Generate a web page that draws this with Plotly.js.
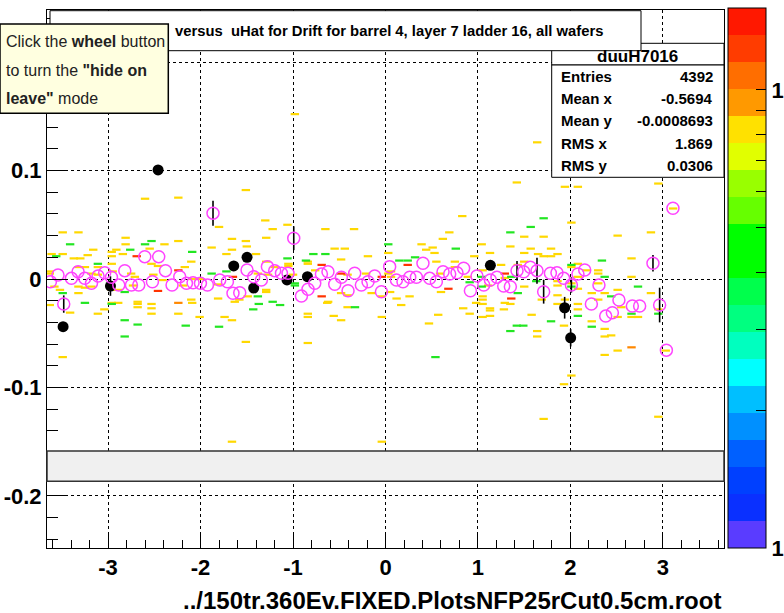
<!DOCTYPE html>
<html>
<head>
<meta charset="utf-8">
<script src="https://cdn.plot.ly/plotly-3.0.1.min.js"></script>
<style>html,body{margin:0;padding:0;background:#fff;overflow:hidden;}#chart{width:784px;height:613px;}</style>
</head>
<body>
<div id="chart"></div>
<script>
// ---- Axis ticks ----
const xTickVals = [-3, -2, -1, 0, 1, 2, 3];
const xTickText = ['-3', '-2', '-1', '0', '1', '2', '3'];
const yTickVals = [-0.2, -0.1, 0, 0.1, 0.2];
const yTickText = ['-0.2', '-0.1', '0', '0.1', ''];   // the 0.2 label is hidden under the tooltip in the original
const xRange = [-3.66, 3.66];
const yRange = [-0.248, 0.248];

// ---- 2D histogram cells (colour = content level) ----
const yellowX = [-0.98,1.64,-2.60,-2.24,-1.51,1.42,1.94,2.08,2.95,3.11,-1.30,-1.06,-1.80,-1.22,-0.65,-0.34,-3.49,-3.32,0.83,2.01,2.87,0.69,0.62,2.51,1.50,1.71,0.39,1.35,0.51,0.44,0.53,1.04,1.57,1.79,1.13,1.50,1.71,2.66,-2.81,-2.81,-1.66,-1.51,-1.29,-2.24,-2.39,-2.91,-3.16,-2.55,-1.88,-1.66,-1.50,-0.55,-0.44,
 -2.96,-3.61,-3.49,-3.22,-2.84,-3.37,-3.30,-2.96,-3.11,-2.96,-2.53,-2.46,-2.17,-2.10,-3.63,-3.63,-3.32,-3.25,-3.11,-3.18,-2.95,-2.75,-2.71,-2.51,-2.41,-2.08,-2.01,-2.19,-2.73,-3.58,-3.52,-3.32,-3.25,-3.18,-3.32,-2.96,-2.89,-2.10,-2.01,
 -1.72,-1.40,-0.19,0.03,-0.84,-0.84,-1.05,-1.05,-0.48,-1.29,-1.20,-1.38,-1.27,-1.00,-0.76,-0.41,-0.21,0.03,-1.81,-1.29,-1.29,-0.62,-0.48,-0.41,-0.15,-0.04,-0.41,-1.81,-1.63,-1.49,-1.74,
 1.65,1.79,0.96,0.55,0.75,0.75,1.05,1.25,1.43,1.50,0.06,0.06,0.59,0.89,1.29,0.60,1.11,1.50,1.29,1.05,1.05,1.13,1.13,0.05,0.12,0.26,0.17,0.84,0.91,0.57,1.58,1.69,
 1.86,2.08,2.01,2.30,2.30,2.17,1.86,1.86,2.01,2.08,2.08,2.30,2.66,2.23,2.37,2.51,2.87,1.86,1.94,2.08,1.86,2.30,2.55,2.95,2.73,2.51,
 -3.63,-3.41,-3.11,-3.04,-2.96,-2.89,-2.68,-2.68,-2.68,-2.53,-2.53,-2.53,-3.49,-2.24,-2.09,-1.66,-1.51,-1.58,-0.84,-0.84,-0.84,-0.63,-0.56,-0.48,-0.04,-1.66,-0.04,
 0.98,1.05,1.13,1.05,1.35,1.28,0.47,1.64,1.64,1.93,2.23,2.37,2.37,2.44,2.51,2.37,2.66,3.03,2.01,1.93,1.71,2.95,2.08];
const yellowY = [0.152,0.126,0.074,0.075,0.082,0.089,0.085,0.085,0.088,0.065,0.054,0.050,0.048,0.046,0.046,0.046,0.043,0.043,0.058,0.052,0.043,0.043,0.037,0.040,0.039,0.039,0.032,0.030,0.029,0.027,0.024,0.032,0.028,0.028,0.024,0.024,0.021,0.019,0.038,0.032,0.037,0.035,0.038,0.035,0.032,0.027,0.027,0.028,0.029,0.027,0.030,0.028,0.028,
 0.025,0.023,0.023,0.022,0.023,0.019,0.019,0.021,0.011,0.014,0.014,0.012,0.011,0.016,0.007,0.005,0.011,0.011,0.004,0.005,0.007,0.005,0.002,0.004,-0.001,0.000,0.000,-0.006,-0.006,-0.007,-0.010,-0.007,-0.008,-0.007,-0.013,-0.010,-0.010,-0.019,-0.035,
 0.023,0.023,0.021,0.024,0.016,0.014,0.014,0.012,0.018,0.016,0.011,0.005,0.004,0.004,0.008,0.004,0.005,0.005,-0.005,-0.010,-0.012,-0.021,-0.013,-0.015,-0.013,-0.016,-0.026,-0.018,-0.021,-0.016,-0.035,
 0.023,0.021,0.021,0.016,0.016,0.011,0.008,0.013,0.013,0.016,0.007,0.002,0.005,0.002,0.001,-0.012,-0.006,-0.007,-0.022,-0.016,-0.019,-0.027,-0.029,-0.012,-0.018,-0.016,-0.024,-0.027,-0.032,-0.033,-0.033,-0.019,
 0.023,0.014,0.011,0.008,0.005,0.008,-0.002,-0.006,-0.004,0.002,-0.009,-0.004,0.002,-0.013,-0.013,-0.010,-0.013,-0.015,-0.019,-0.028,-0.023,-0.019,-0.026,-0.028,-0.035,-0.035,
 -0.024,-0.031,-0.032,-0.028,-0.022,-0.022,-0.021,-0.023,-0.026,-0.023,-0.027,-0.032,-0.072,-0.032,-0.022,-0.038,-0.058,-0.019,-0.032,-0.035,-0.059,-0.022,-0.034,-0.038,-0.035,-0.150,-0.150,
 -0.022,-0.023,-0.034,-0.035,-0.023,-0.028,-0.041,-0.048,-0.053,-0.043,-0.039,-0.046,-0.053,-0.052,-0.066,-0.070,-0.035,-0.066,-0.089,-0.097,-0.129,-0.127,-0.023];

const greenX = [1.71,1.57,1.35,0.76,0.03,2.34,-2.53,-3.41,-2.76,-2.09,-0.78,-0.65,-1.06,-0.86,-2.60,-3.56,-3.11,-1.88,-2.82,-3.49,-3.25,-2.96,-2.82,-1.72,-1.38,-1.22,-0.98,-0.98,-0.33,-1.43,0.15,0.24,0.32,1.04,1.36,1.63,0.91,1.04,1.43,2.01,2.37,2.01,2.73,2.44,2.66,2.95,2.08,-2.68,-2.82,-2.16,-1.80,-1.37,-1.14,0.54,1.42,1.49,1.35,1.79,2.23];
const greenY = [0.056,0.048,0.043,0.028,0.032,0.017,0.035,0.032,0.027,0.025,0.023,0.023,0.019,0.017,0.032,0.021,0.014,0.005,-0.012,-0.013,-0.022,-0.023,-0.038,0.007,-0.016,-0.021,-0.004,-0.006,-0.026,-0.028,0.017,0.017,0.020,0.002,0.002,-0.002,-0.003,-0.007,-0.013,0.013,0.002,-0.007,-0.007,-0.016,-0.032,-0.032,-0.034,-0.042,-0.053,-0.043,-0.044,-0.023,-0.024,-0.072,-0.043,-0.043,-0.048,-0.039,-0.044];

const redX = [-2.69,-2.24,-2.46,-0.69,-1.65,-0.48,-0.04,-0.69,0.24,1.29,0.68,1.36];
const redY = [0.021,0.008,-0.011,0.013,0.002,0.005,0.002,-0.016,0.013,0.005,-0.009,-0.018];
const orangeX = [-2.24, 2.66];
const orangeY = [-0.022, -0.063];

// ---- Profile (open magenta circles) ----
const profX = [-3.623,-3.541,-3.479,-3.396,-3.324,-3.252,-3.179,-3.108,-3.036,-2.963,-2.884,-2.819,-2.747,-2.668,-2.603,-2.520,-2.452,-2.379,-2.308,-2.225,-2.152,-2.081,-2.001,-1.925,-1.865,-1.792,-1.709,-1.649,-1.576,-1.497,-1.425,-1.342,-1.277,-1.198,-1.125,-1.054,-0.992,-0.909,-0.838,-0.765,-0.693,-0.622,-0.549,-0.477,-0.405,-0.333,-0.261,-0.189,-0.117,-0.044,0.045,0.118,0.189,0.262,0.334,0.405,0.478,0.550,0.622,0.694,0.773,0.845,0.918,0.989,1.062,1.134,1.205,1.278,1.350,1.422,1.494,1.566,1.638,1.710,1.783,1.854,1.926,2.010,2.081,2.154,2.226,2.308,2.381,2.453,2.524,2.669,2.748,2.892,2.964,3.037,3.108];
const profY = [-0.0025,0.0037,-0.0231,0.0006,0.0067,0.0006,-0.0040,0.0028,0.0058,0.0016,-0.0055,0.0077,-0.0055,-0.0055,0.0206,-0.0025,0.0206,0.0077,-0.0055,0.0021,-0.0040,-0.0034,-0.0040,-0.0055,0.0607,-0.0009,-0.0025,-0.0132,-0.0126,0.0083,0.0021,-0.0009,0.0114,0.0077,0.0053,0.0053,0.0376,-0.0157,-0.0095,-0.0040,0.0046,0.0067,-0.0049,0.0016,-0.0108,0.0053,-0.0055,-0.0025,0.0028,-0.0117,0.0114,-0.0009,-0.0025,0.0016,0.0016,0.0145,0.0006,-0.0025,0.0067,0.0046,0.0058,0.0099,-0.0108,0.0028,-0.0055,-0.0009,0.0016,-0.0065,-0.0071,0.0077,0.0067,0.0108,0.0077,-0.0117,0.0053,0.0058,0.0006,-0.0055,0.0046,0.0083,-0.0231,-0.0055,-0.0342,-0.0311,-0.0194,-0.0249,-0.0249,0.0145,-0.0240,-0.0656,0.0653];
// errors small enough to stay hidden inside the circle are given as 0
const profErr = [0,0,0.008,0,0,0,0,0,0,0,0,0,0,0,0,0,0,0,0,0,0,0,0,0,0.0115,0,0,0,0,0,0,0,0,0,0,0,0.011,0,0,0,0,0,0,0,0,0,0,0,0,0,0,0,0,0,0,0,0,0,0,0,0,0,0,0,0,0,0,0,0,0.009,0,0,0.012,0.011,0,0,0,0.007,0,0,0,0,0,0,0,0,0,0.0077,0.016,0,0];

// ---- Second profile (filled black circles) ----
const blackX = [-3.486,-2.974,-2.459,-1.641,-1.497,-1.425,-1.065,-0.844,1.134,1.937,2.002];
const blackY = [-0.0440,-0.0065,0.1006,0.0120,0.0200,-0.0083,-0.0009,0.0021,0.0126,-0.0265,-0.0542];
const blackErr = [0.004,0.009,0,0,0,0.004,0,0,0,0.010,0.008];

// ---- Gray band ----
const bandLow = -0.1865, bandHigh = -0.1585;

// ---- Colour palette (bottom -> top) and z range (log10) ----
const paletteColors = ['#5a3cff','#0a30ff','#0040ff','#0060ff','#0090ff','#00bfff','#00ffff','#00ffbf','#00ff80','#00ff4c','#00ff00','#00ff00','#66ff00','#99ff00','#e1ff00','#ffe100','#ff9900','#ff6e00','#ff3c00','#ff1800'];
const zLogMin = 0, zLogMax = 1.179;
const cbTickVals = [0, Math.log10(2), Math.log10(3), Math.log10(4), Math.log10(5), Math.log10(6), Math.log10(7), Math.log10(8), Math.log10(9), 1];
const cbTickText = ['1','','','','','','','','','10'];

// ---- Stats box ----
const statName = 'duuH7016';
const statLabels = ['Entries','Mean x','Mean y','RMS x','RMS y'];
const statValues = ['4392','-0.5694','-0.0008693','1.869','0.0306'];

const titleText = 'versus\u00a0 uHat for Drift for barrel 4, layer 7 ladder 16, all wafers';
const xTitleText = '../150tr.360Ev.FIXED.PlotsNFP25rCut0.5cm.root';

// ---------------------------------------------------------------
const FONT = 'Liberation Sans, Arial, sans-serif';
const colorscale = [];
paletteColors.forEach((c, i) => {
  colorscale.push([i / paletteColors.length, c]);
  colorscale.push([(i + 1) / paletteColors.length, c]);
});

function cells(x, y, color) {
  return {
    type: 'scatter', mode: 'markers', x: x, y: y, hoverinfo: 'skip', showlegend: false,
    marker: { symbol: 'line-ew', size: 6, color: color, line: { color: color, width: 2.2 } }
  };
}

const traces = [
  cells(yellowX, yellowY, '#ffd800'),
  cells(greenX, greenY, '#22e622'),
  cells(redX, redY, '#ff3300'),
  cells(orangeX, orangeY, '#ff8800'),
  {
    type: 'scatter', mode: 'markers', x: blackX, y: blackY, showlegend: false,
    error_y: { type: 'data', array: blackErr, color: '#000', thickness: 1.6, width: 0 },
    marker: { symbol: 'circle', size: 11, color: '#000' }
  },
  {
    type: 'scatter', mode: 'markers', x: profX, y: profY, showlegend: false,
    error_y: { type: 'data', array: profErr, color: '#000', thickness: 1.6, width: 0 },
    marker: { symbol: 'circle-open', size: 12, color: '#ff44ff', line: { color: '#ff44ff', width: 1.5 } }
  },
  {
    type: 'scatter', mode: 'markers', x: [null], y: [null], showlegend: false, hoverinfo: 'skip',
    marker: {
      color: [zLogMin], cmin: zLogMin, cmax: zLogMax, colorscale: colorscale, showscale: true,
      colorbar: {
        x: 1.0059, xanchor: 'left', xpad: 0, ypad: 0, y: 0.502, yanchor: 'middle',
        thickness: 38, len: 540, lenmode: 'pixels', outlinewidth: 1, outlinecolor: '#000',
        tickmode: 'array', tickvals: cbTickVals, ticktext: cbTickText,
        ticks: 'inside', ticklen: 10, tickcolor: '#000', tickwidth: 1,
        tickfont: { family: FONT, size: 22, color: '#000', weight: 'bold' }
      }
    }
  }
];

// paper coordinate helpers for overlay boxes (plot area: x 47..724, y 10..548 px)
const px = v => (v - 47) / 677;
const py = v => (548 - v) / 538;

const shapes = [
  { type: 'rect', xref: 'paper', yref: 'y', x0: 0, x1: 1, y0: bandLow, y1: bandHigh,
    fillcolor: '#f0f0f0', line: { color: '#333', width: 1.5 }, layer: 'above' },
  { type: 'rect', xref: 'paper', yref: 'paper', x0: px(551.7), x1: px(724), y0: py(65), y1: py(43.3),
    fillcolor: '#fff', line: { color: '#000', width: 1 }, layer: 'above' },
  { type: 'rect', xref: 'paper', yref: 'paper', x0: px(551.7), x1: px(724), y0: py(177.3), y1: py(65),
    fillcolor: '#fff', line: { color: '#000', width: 1 }, layer: 'above' },
  { type: 'rect', xref: 'paper', yref: 'paper', x0: px(50), x1: px(641), y0: py(50.7), y1: py(10.7),
    fillcolor: '#fff', line: { color: '#000', width: 1 }, layer: 'above' },
  { type: 'rect', xref: 'paper', yref: 'paper', x0: px(0), x1: px(168.3), y0: py(113.3), y1: py(24),
    fillcolor: '#ffffe0', line: { color: '#000', width: 1.5 }, layer: 'above' },
  { type: 'line', xref: 'paper', yref: 'paper', x0: px(744), x1: px(766), y0: py(90), y1: py(90),
    line: { color: '#000', width: 1 }, layer: 'above' }
];

const annotations = [];
annotations.push({ xref: 'paper', yref: 'paper', x: px(637.5), y: py(56), xanchor: 'center', yanchor: 'middle',
  text: statName, showarrow: false, font: { family: FONT, size: 17, color: '#000', weight: 'bold' } });
const rowY = [76.7, 98.3, 120, 143.3, 165];
statLabels.forEach((lab, i) => {
  annotations.push({ xref: 'paper', yref: 'paper', x: px(559), y: py(rowY[i]), xanchor: 'left', yanchor: 'middle',
    text: lab, showarrow: false, font: { family: FONT, size: 15, color: '#000', weight: 'bold' } });
  annotations.push({ xref: 'paper', yref: 'paper', x: px(715), y: py(rowY[i]), xanchor: 'right', yanchor: 'middle',
    text: statValues[i], showarrow: false, font: { family: FONT, size: 15, color: '#000', weight: 'bold' } });
});
annotations.push({ xref: 'paper', yref: 'paper', x: px(173), y: py(31), xanchor: 'left', yanchor: 'middle',
  text: titleText, showarrow: false, font: { family: FONT, size: 14.8, color: '#000', weight: 'bold' } });
const tipLines = ['Click the <b>wheel</b> button', 'to turn the <b>"hide on</b>', '<b>leave"</b> mode'];
const tipY = [41.7, 70, 98.3];
tipLines.forEach((t, i) => {
  annotations.push({ xref: 'paper', yref: 'paper', x: px(4), y: py(tipY[i]), xanchor: 'left', yanchor: 'middle',
    text: t, showarrow: false, font: { family: FONT, size: 16, color: '#222' } });
});
annotations.push({ xref: 'paper', yref: 'paper', x: px(723), y: py(600), xanchor: 'right', yanchor: 'middle',
  text: xTitleText, showarrow: false, font: { family: FONT, size: 24, color: '#000', weight: 'bold' } });

const axisCommon = {
  showline: true, linecolor: '#000', linewidth: 1, mirror: true,
  showgrid: true, gridcolor: '#000', gridwidth: 1, griddash: 'dot',
  zeroline: false, ticks: 'inside', tickcolor: '#000', tickwidth: 1,
  tickmode: 'array', fixedrange: true,
  tickfont: { family: FONT, size: 22, color: '#000', weight: 'bold' }
};

const layout = {
  width: 784, height: 613,
  margin: { l: 47, r: 60, t: 10, b: 65, pad: 0, autoexpand: false },
  paper_bgcolor: '#fff', plot_bgcolor: '#fff',
  showlegend: false,
  xaxis: Object.assign({}, axisCommon, {
    range: xRange, tickvals: xTickVals, ticktext: xTickText, ticklen: 16, automargin: false,
    minor: { ticks: 'inside', ticklen: 8, tick0: 0, dtick: 0.2, tickcolor: '#000', tickwidth: 1, showgrid: false }
  }),
  yaxis: Object.assign({}, axisCommon, {
    range: yRange, tickvals: yTickVals, ticktext: yTickText, ticklen: 21, automargin: false,
    minor: { ticks: 'inside', ticklen: 11, tick0: 0, dtick: 0.02, tickcolor: '#000', tickwidth: 1, showgrid: false }
  }),
  shapes: shapes,
  annotations: annotations
};

Plotly.newPlot('chart', traces, layout, { staticPlot: true, displayModeBar: false });
</script>
</body>
</html>
